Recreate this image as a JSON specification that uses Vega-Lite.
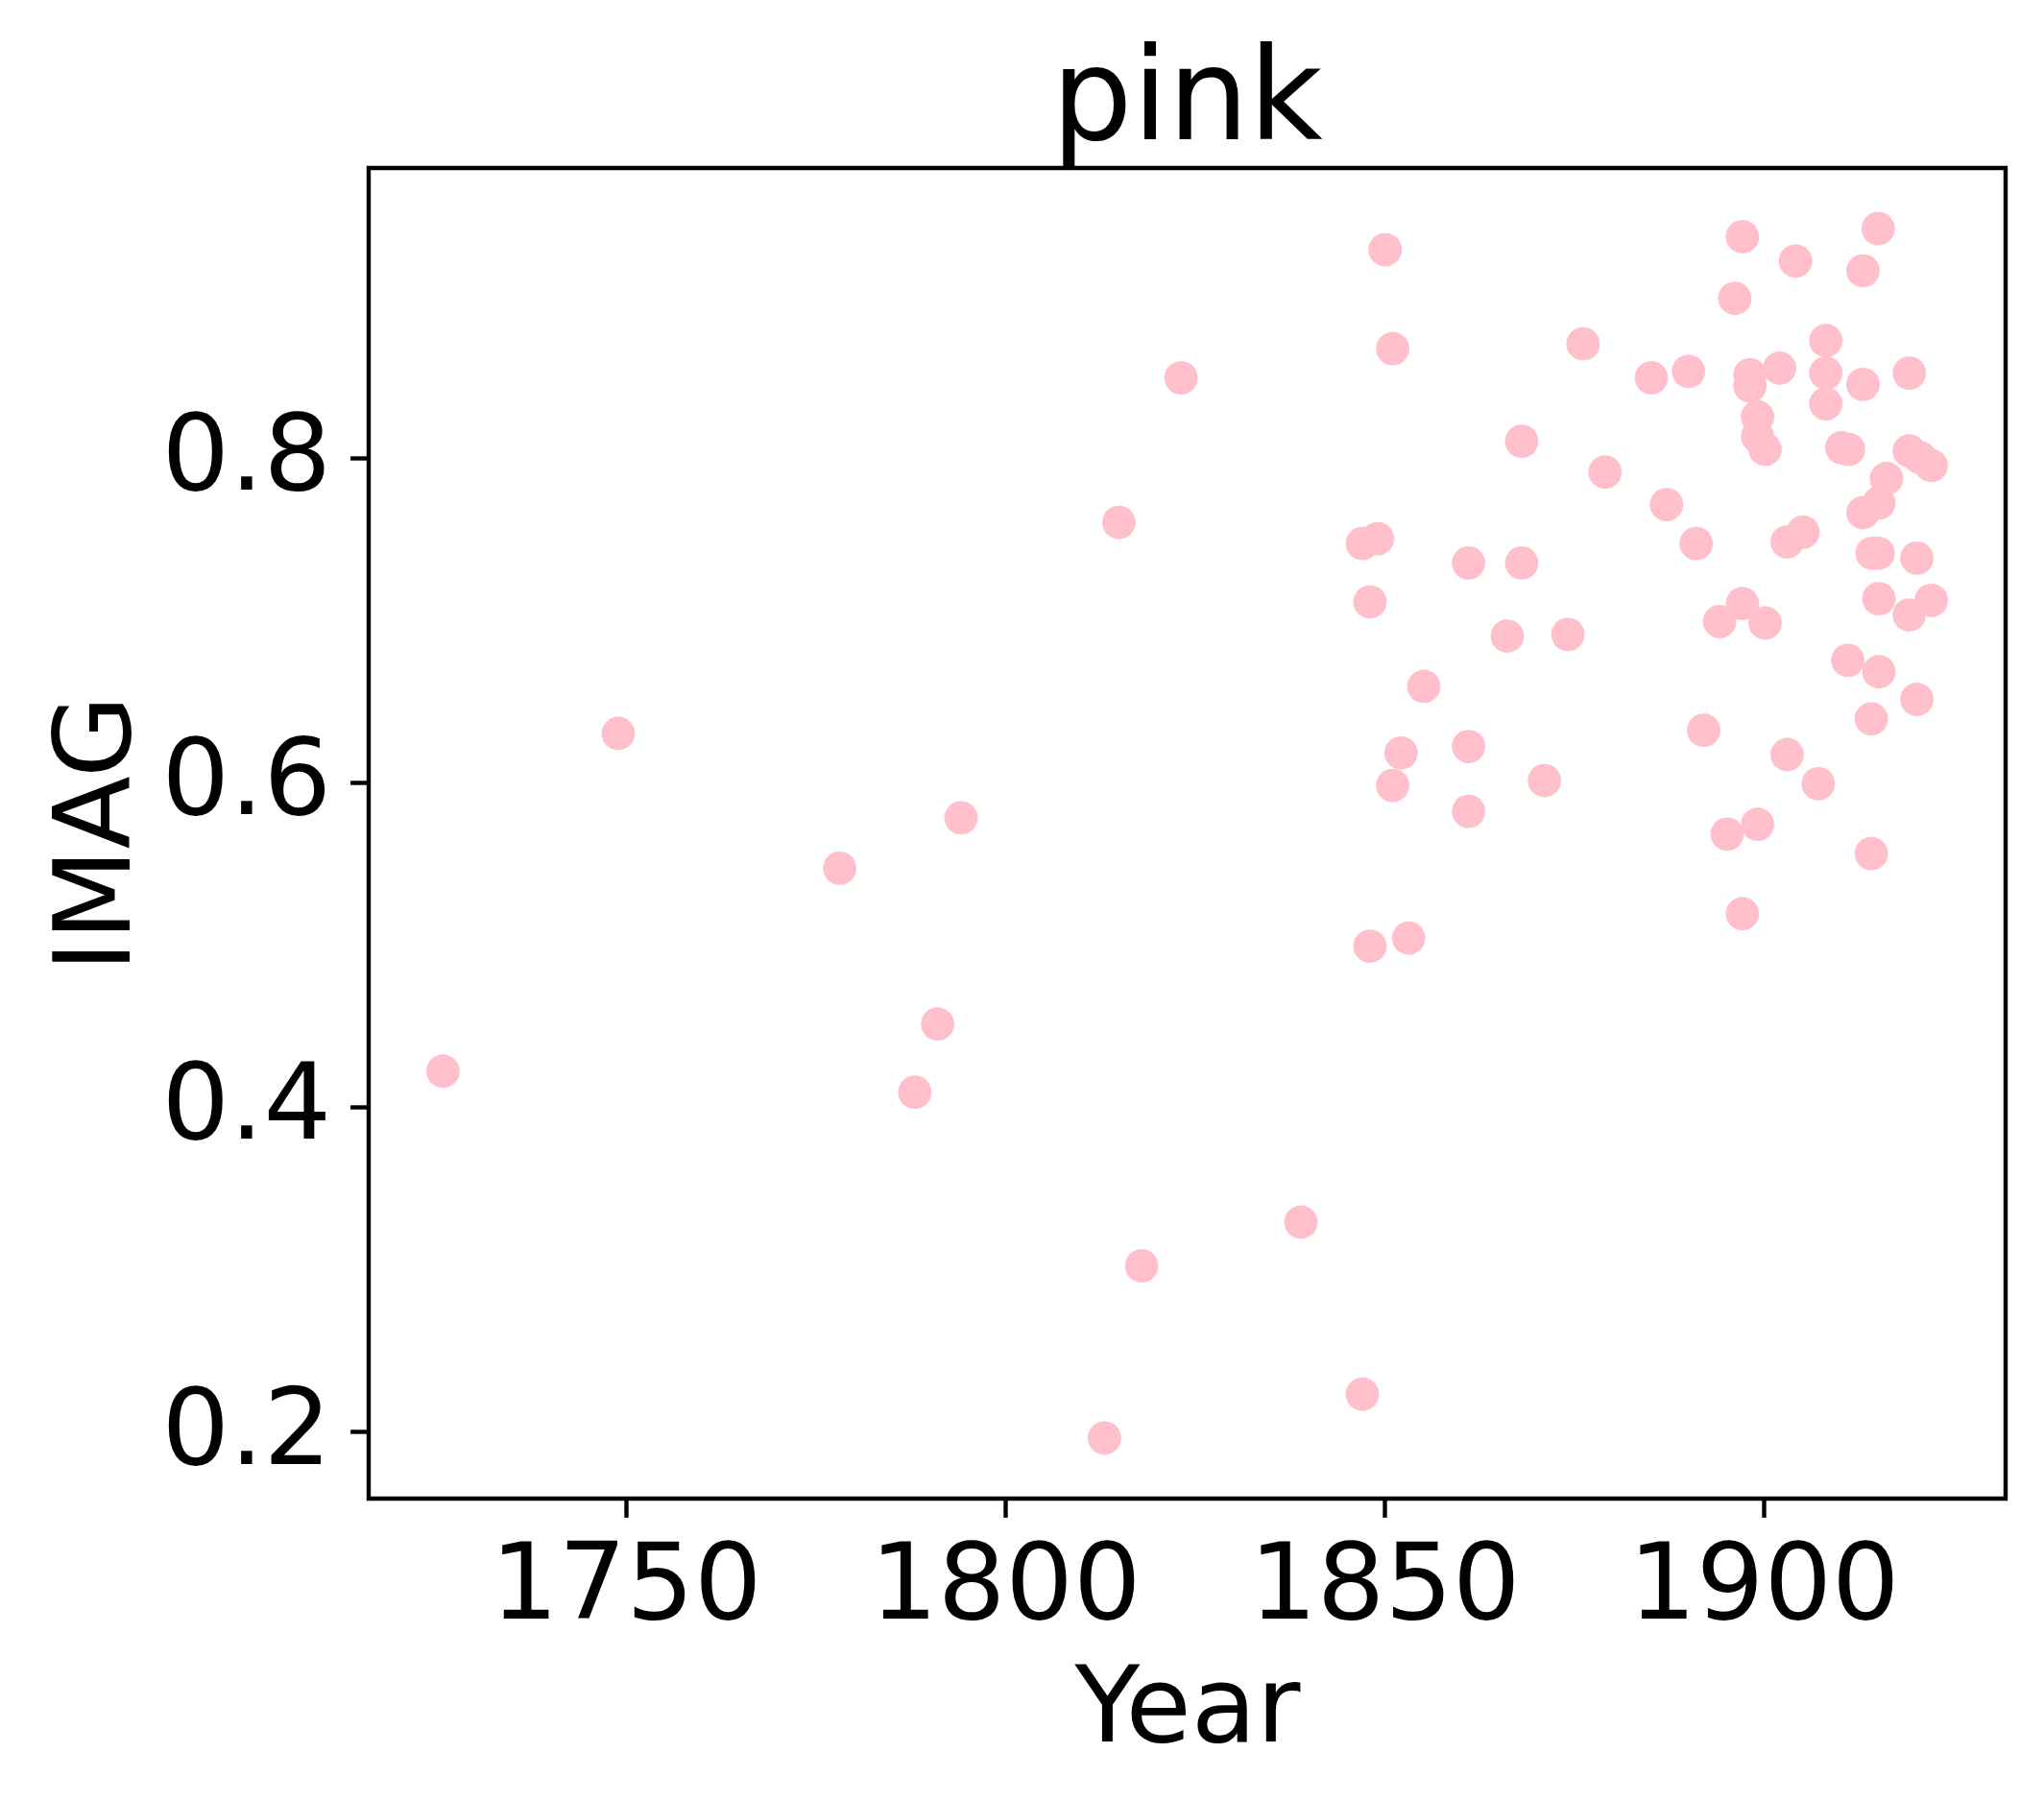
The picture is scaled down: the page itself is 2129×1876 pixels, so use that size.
{
  "$schema": "https://vega.github.io/schema/vega-lite/v6.json",
  "width": 1705,
  "height": 1386,
  "autosize": {"type": "none"},
  "padding": {"left": 384, "top": 175, "right": 40, "bottom": 315},
  "background": "white",
  "title": {"text": "pink", "font": "DejaVu Sans", "fontSize": 133, "fontWeight": "normal", "color": "black", "baseline": "alphabetic", "offset": -103, "anchor": "middle"},
  "config": {
    "view": {"stroke": "black", "strokeWidth": 4.4},
    "axis": {"grid": false, "domain": false, "tickColor": "black", "tickWidth": 4.4, "tickSize": 19.4, "labelFont": "DejaVu Sans", "labelFontSize": 111, "labelColor": "black", "labelLimit": 0, "titleFont": "DejaVu Sans", "titleFontSize": 111, "titleFontWeight": "normal", "titleColor": "black", "titleLimit": 0}
  },
  "data": {"values": [
    {"Year": 1725.9, "IMAG": 0.422},
    {"Year": 1749.0, "IMAG": 0.630},
    {"Year": 1778.2, "IMAG": 0.547},
    {"Year": 1788.1, "IMAG": 0.409},
    {"Year": 1791.1, "IMAG": 0.451},
    {"Year": 1794.2, "IMAG": 0.578},
    {"Year": 1813.1, "IMAG": 0.196},
    {"Year": 1815.0, "IMAG": 0.760},
    {"Year": 1818.0, "IMAG": 0.302},
    {"Year": 1823.2, "IMAG": 0.849},
    {"Year": 1839.0, "IMAG": 0.329},
    {"Year": 1847.1, "IMAG": 0.223},
    {"Year": 1850.1, "IMAG": 0.928},
    {"Year": 1851.1, "IMAG": 0.867},
    {"Year": 1876.2, "IMAG": 0.870},
    {"Year": 1868.1, "IMAG": 0.810},
    {"Year": 1879.1, "IMAG": 0.791},
    {"Year": 1847.1, "IMAG": 0.747},
    {"Year": 1849.1, "IMAG": 0.750},
    {"Year": 1861.1, "IMAG": 0.735},
    {"Year": 1868.1, "IMAG": 0.735},
    {"Year": 1848.1, "IMAG": 0.711},
    {"Year": 1866.2, "IMAG": 0.690},
    {"Year": 1874.2, "IMAG": 0.691},
    {"Year": 1855.2, "IMAG": 0.659},
    {"Year": 1852.2, "IMAG": 0.618},
    {"Year": 1861.1, "IMAG": 0.622},
    {"Year": 1851.1, "IMAG": 0.598},
    {"Year": 1861.1, "IMAG": 0.582},
    {"Year": 1871.1, "IMAG": 0.601},
    {"Year": 1848.1, "IMAG": 0.499},
    {"Year": 1853.2, "IMAG": 0.504},
    {"Year": 1897.2, "IMAG": 0.936},
    {"Year": 1904.2, "IMAG": 0.921},
    {"Year": 1915.1, "IMAG": 0.941},
    {"Year": 1913.1, "IMAG": 0.915},
    {"Year": 1896.2, "IMAG": 0.898},
    {"Year": 1908.2, "IMAG": 0.872},
    {"Year": 1885.2, "IMAG": 0.849},
    {"Year": 1890.1, "IMAG": 0.853},
    {"Year": 1898.2, "IMAG": 0.851},
    {"Year": 1898.2, "IMAG": 0.844},
    {"Year": 1902.1, "IMAG": 0.855},
    {"Year": 1908.2, "IMAG": 0.852},
    {"Year": 1908.2, "IMAG": 0.833},
    {"Year": 1913.1, "IMAG": 0.845},
    {"Year": 1919.2, "IMAG": 0.852},
    {"Year": 1899.2, "IMAG": 0.825},
    {"Year": 1899.2, "IMAG": 0.813},
    {"Year": 1900.2, "IMAG": 0.805},
    {"Year": 1910.3, "IMAG": 0.806},
    {"Year": 1911.2, "IMAG": 0.805},
    {"Year": 1919.2, "IMAG": 0.804},
    {"Year": 1920.6, "IMAG": 0.800},
    {"Year": 1922.1, "IMAG": 0.795},
    {"Year": 1887.2, "IMAG": 0.771},
    {"Year": 1891.1, "IMAG": 0.747},
    {"Year": 1905.2, "IMAG": 0.754},
    {"Year": 1903.1, "IMAG": 0.748},
    {"Year": 1916.2, "IMAG": 0.787},
    {"Year": 1915.2, "IMAG": 0.772},
    {"Year": 1913.1, "IMAG": 0.766},
    {"Year": 1914.3, "IMAG": 0.741},
    {"Year": 1915.1, "IMAG": 0.741},
    {"Year": 1920.2, "IMAG": 0.738},
    {"Year": 1897.2, "IMAG": 0.710},
    {"Year": 1894.2, "IMAG": 0.699},
    {"Year": 1900.2, "IMAG": 0.698},
    {"Year": 1915.2, "IMAG": 0.713},
    {"Year": 1919.2, "IMAG": 0.703},
    {"Year": 1922.1, "IMAG": 0.712},
    {"Year": 1911.1, "IMAG": 0.675},
    {"Year": 1915.2, "IMAG": 0.668},
    {"Year": 1920.2, "IMAG": 0.651},
    {"Year": 1914.2, "IMAG": 0.639},
    {"Year": 1892.1, "IMAG": 0.632},
    {"Year": 1903.1, "IMAG": 0.617},
    {"Year": 1907.2, "IMAG": 0.599},
    {"Year": 1895.2, "IMAG": 0.568},
    {"Year": 1899.2, "IMAG": 0.574},
    {"Year": 1914.2, "IMAG": 0.556},
    {"Year": 1897.2, "IMAG": 0.519}
  ]},
  "mark": {"type": "circle", "size": 1210, "color": "#ffc0cb", "opacity": 1},
  "encoding": {
    "x": {"field": "Year", "type": "quantitative",
      "scale": {"domain": [1716.1, 1931.9], "nice": false, "zero": false},
      "axis": {"values": [1750, 1800, 1850, 1900], "format": "d", "title": "Year", "labelPadding": 17, "titleY": 252, "titleBaseline": "alphabetic"}},
    "y": {"field": "IMAG", "type": "quantitative",
      "scale": {"domain": [0.1587, 0.9783], "nice": false, "zero": false},
      "axis": {"values": [0.2, 0.4, 0.6, 0.8], "format": ".1f", "title": "IMAG", "labelPadding": 20, "titleX": -250, "titleBaseline": "alphabetic"}}
  }
}
